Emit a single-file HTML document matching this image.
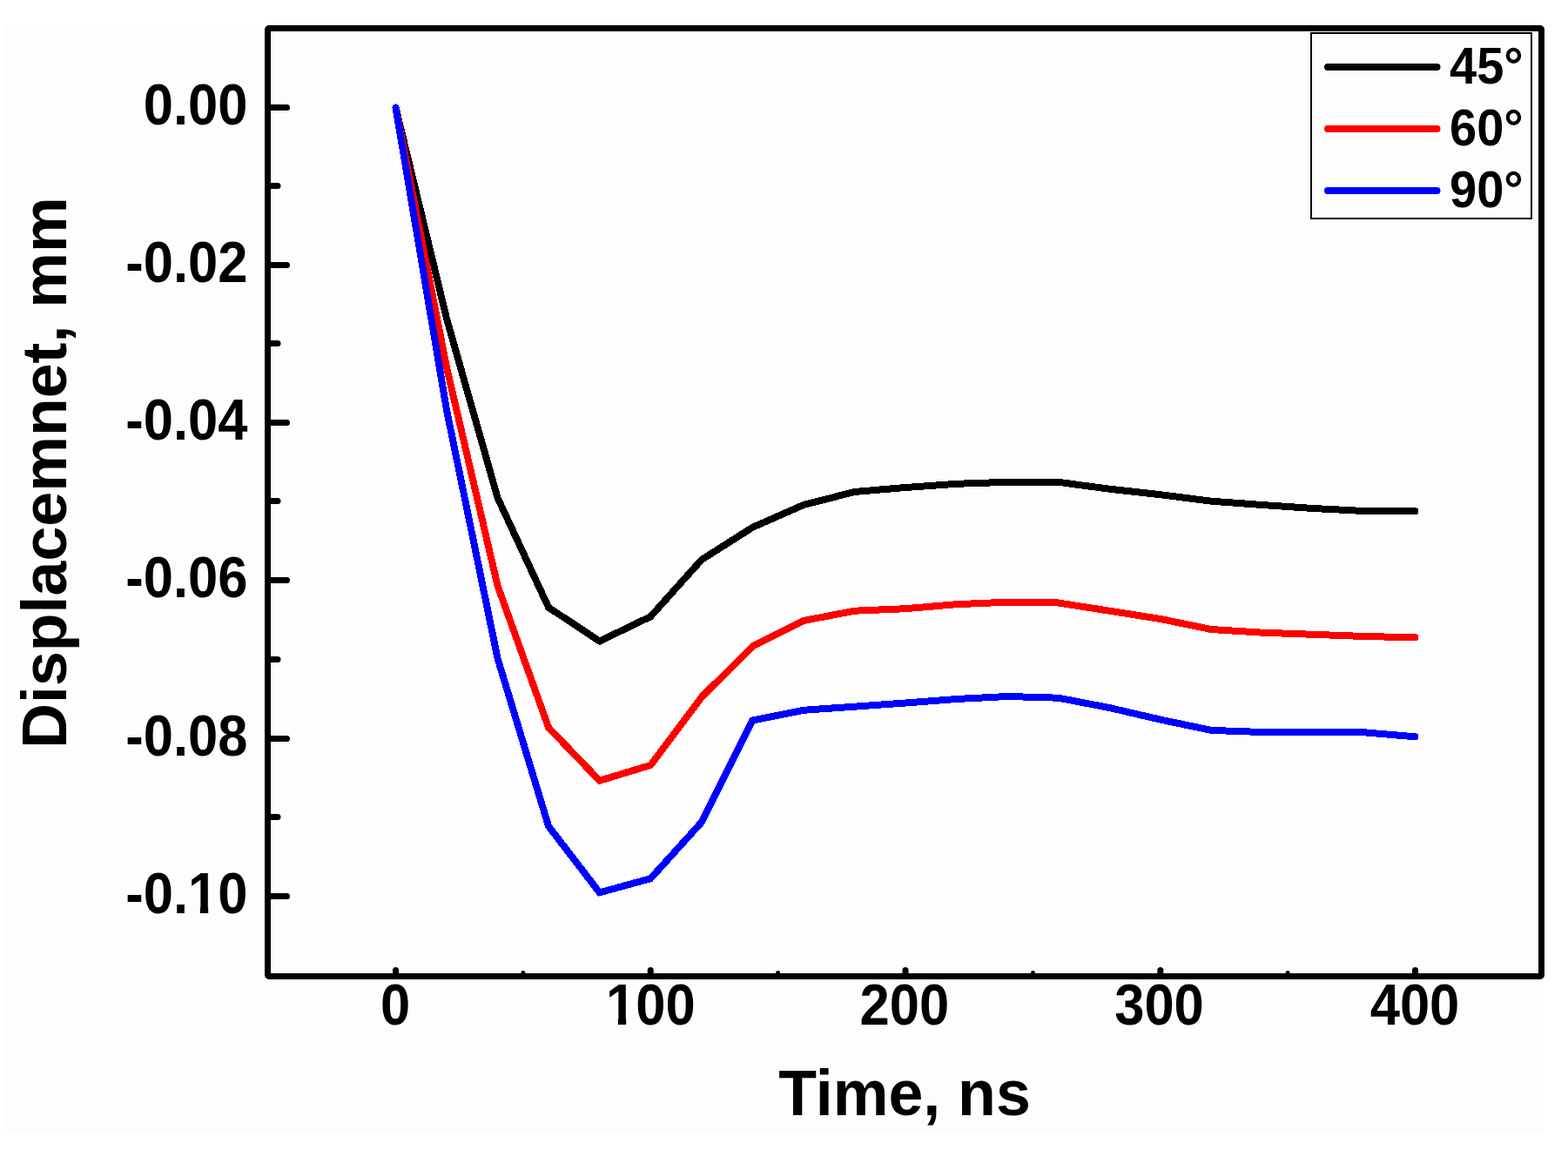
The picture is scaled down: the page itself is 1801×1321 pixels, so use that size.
<!DOCTYPE html>
<html><head><meta charset="utf-8"><title>Displacement vs Time</title>
<style>
html,body{margin:0;padding:0;background:#ffffff;}
body{width:1801px;height:1321px;overflow:hidden;}
svg{display:block;}
text{font-family:"Liberation Sans",sans-serif;font-weight:bold;fill:#000;}
</style></head><body>
<svg width="1801" height="1321" viewBox="0 0 1801 1321">
<rect x="0" y="0" width="1801" height="1321" fill="#ffffff"/>
<rect x="5" y="28" width="1769" height="1273" fill="#fdfdfd"/>
<path d="M311,123.5H329.5 M311,304.5H329.5 M311,485.5H329.5 M311,666.5H329.5 M311,848.5H329.5 M311,1029.5H329.5" stroke="#000" stroke-width="7" stroke-linecap="round" fill="none"/>
<path d="M311,213.5H319 M311,394.5H319 M311,575.5H319 M311,757.5H319 M311,938.5H319" stroke="#000" stroke-width="7" stroke-linecap="round" fill="none"/>
<path d="M454.5,1118V1114.5 M747.2,1118V1114.5 M1040.0,1118V1114.5 M1332.8,1118V1114.5 M1625.5,1118V1114.5" stroke="#000" stroke-width="7" stroke-linecap="round" fill="none"/>
<path d="M600.9,1118V1117.5 M893.6,1118V1117.5 M1186.4,1118V1117.5 M1479.1,1118V1117.5" stroke="#000" stroke-width="5" stroke-linecap="round" fill="none"/>
<polyline points="454.5,123.5 513.0,366.0 571.6,572.0 630.1,697.8 688.7,736.5 747.2,708.3 805.8,643.0 864.4,605.8 922.9,580.0 981.5,565.0 1040.0,560.0 1098.6,555.8 1157.1,553.8 1215.7,553.8 1274.2,561.7 1332.8,568.2 1391.3,575.7 1449.8,580.0 1508.4,584.0 1567.0,587.0 1625.5,587.2" fill="none" stroke="#000000" stroke-width="8" stroke-linejoin="miter" stroke-miterlimit="4" stroke-linecap="round" shape-rendering="crispEdges"/>
<polyline points="454.5,123.5 513.0,422.0 571.6,673.0 630.1,835.8 688.7,896.7 747.2,879.0 805.8,800.8 864.4,742.5 922.9,713.0 981.5,701.7 1040.0,699.2 1098.6,694.2 1157.1,691.7 1215.7,692.5 1274.2,701.7 1332.8,711.0 1391.3,723.0 1449.8,726.7 1508.4,728.8 1567.0,731.0 1625.5,732.3" fill="none" stroke="#ff0000" stroke-width="8" stroke-linejoin="miter" stroke-miterlimit="4" stroke-linecap="round" shape-rendering="crispEdges"/>
<polyline points="454.5,123.5 513.0,471.0 571.6,756.5 630.1,949.2 688.7,1025.3 747.2,1009.2 805.8,944.5 864.4,827.5 922.9,815.8 981.5,811.7 1040.0,807.5 1098.6,803.0 1157.1,800.0 1215.7,801.7 1274.2,813.0 1332.8,826.6 1391.3,838.9 1449.8,841.0 1508.4,841.0 1567.0,841.3 1625.5,846.3" fill="none" stroke="#0000ff" stroke-width="8" stroke-linejoin="miter" stroke-miterlimit="4" stroke-linecap="round" shape-rendering="crispEdges"/>
<rect x="307.5" y="32.5" width="1463" height="1089" fill="none" stroke="#000" stroke-width="7" rx="1.5"/>
<rect x="1506" y="38" width="253" height="213" fill="#fdfdfd" stroke="#000" stroke-width="2"/>
<line x1="1525" y1="77.1" x2="1650.5" y2="77.1" stroke="#000000" stroke-width="8" stroke-linecap="round"/>
<text transform="translate(1665,96.1) scale(1,1.05)" font-size="56">45°</text>
<line x1="1525" y1="148.1" x2="1650.5" y2="148.1" stroke="#ff0000" stroke-width="8" stroke-linecap="round"/>
<text transform="translate(1665,167.1) scale(1,1.05)" font-size="56">60°</text>
<line x1="1525" y1="219.0" x2="1650.5" y2="219.0" stroke="#0000ff" stroke-width="8" stroke-linecap="round"/>
<text transform="translate(1665,238.0) scale(1,1.05)" font-size="56">90°</text>
<text transform="translate(284.5,142.5) scale(1,1.07)" font-size="61.5" text-anchor="end">0.00</text>
<text transform="translate(284.5,323.5) scale(1,1.07)" font-size="61.5" text-anchor="end">-0.02</text>
<text transform="translate(284.5,504.5) scale(1,1.07)" font-size="61.5" text-anchor="end">-0.04</text>
<text transform="translate(284.5,685.5) scale(1,1.07)" font-size="61.5" text-anchor="end">-0.06</text>
<text transform="translate(284.5,867.5) scale(1,1.07)" font-size="61.5" text-anchor="end">-0.08</text>
<text transform="translate(284.5,1048.5) scale(1,1.07)" font-size="61.5" text-anchor="end">-0.10</text>
<text transform="translate(454.0,1176.5) scale(1,1.07)" font-size="61.5" text-anchor="middle">0</text>
<text transform="translate(747.3,1176.5) scale(1,1.07)" font-size="61.5" text-anchor="middle">100</text>
<text transform="translate(1038.8,1176.5) scale(1,1.07)" font-size="61.5" text-anchor="middle">200</text>
<text transform="translate(1331.5,1176.5) scale(1,1.07)" font-size="61.5" text-anchor="middle">300</text>
<text transform="translate(1625.0,1176.5) scale(1,1.07)" font-size="61.5" text-anchor="middle">400</text>
<text transform="translate(1039,1281) scale(0.996,1.035)" font-size="72" text-anchor="middle">Time, ns</text>
<text transform="translate(76.4,543) rotate(-90)" x="0" y="0" font-size="71.7" text-anchor="middle">Displacemnet, mm</text>
<rect x="698.00" y="1169.40" width="11.85" height="8.60" fill="#fdfdfd"/>
<rect x="719.15" y="1169.40" width="10.85" height="8.60" fill="#fdfdfd"/>
<rect x="218.00" y="1040.40" width="11.85" height="8.60" fill="#fdfdfd"/>
<rect x="239.15" y="1040.40" width="10.85" height="8.60" fill="#fdfdfd"/>
</svg>
</body></html>
